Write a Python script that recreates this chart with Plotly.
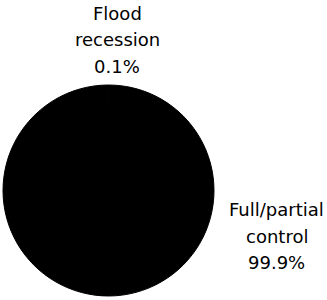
import plotly.graph_objects as go

labels = ["Full/partial control", "Flood recession"]
values = [99.9, 0.1]
label_lines = [["Full/partial", "control"], ["Flood", "recession"]]
colors = ["#000000", "#000000"]

W, H = 327, 300

fig = go.Figure(go.Pie(
    labels=labels,
    values=values,
    sort=False,
    direction="clockwise",
    rotation=0,
    textinfo="none",
    hoverinfo="label+percent",
    marker=dict(colors=colors, line=dict(width=1, color="#000000")),
    domain=dict(x=[3 / W, 214 / W], y=[1 - 296 / H, 1 - 85 / H]),
    showlegend=False,
))

# label block positions (pixels): center x, first-line baseline y
blocks = {"Flood recession": (117, 20), "Full/partial control": (276.5, 216)}
line_gap = 26.5
fs = 18
anns = []
for lab, val, lines in zip(labels, values, label_lines):
    cx, by = blocks[lab]
    texts = lines + [f"{val:.1f}%"]
    for i, t in enumerate(texts):
        base = by + i * line_gap
        ymid = base - 6.5
        anns.append(dict(
            text=t, x=cx / W, y=1 - ymid / H, xref="paper", yref="paper",
            xanchor="center", yanchor="middle", showarrow=False,
            font=dict(family="DejaVu Sans", size=fs, color="#000000"),
        ))

fig.update_layout(
    width=W, height=H,
    margin=dict(l=0, r=0, t=0, b=0),
    paper_bgcolor="#ffffff",
    plot_bgcolor="#ffffff",
    annotations=anns,
)

fig.write_html("out.html")
